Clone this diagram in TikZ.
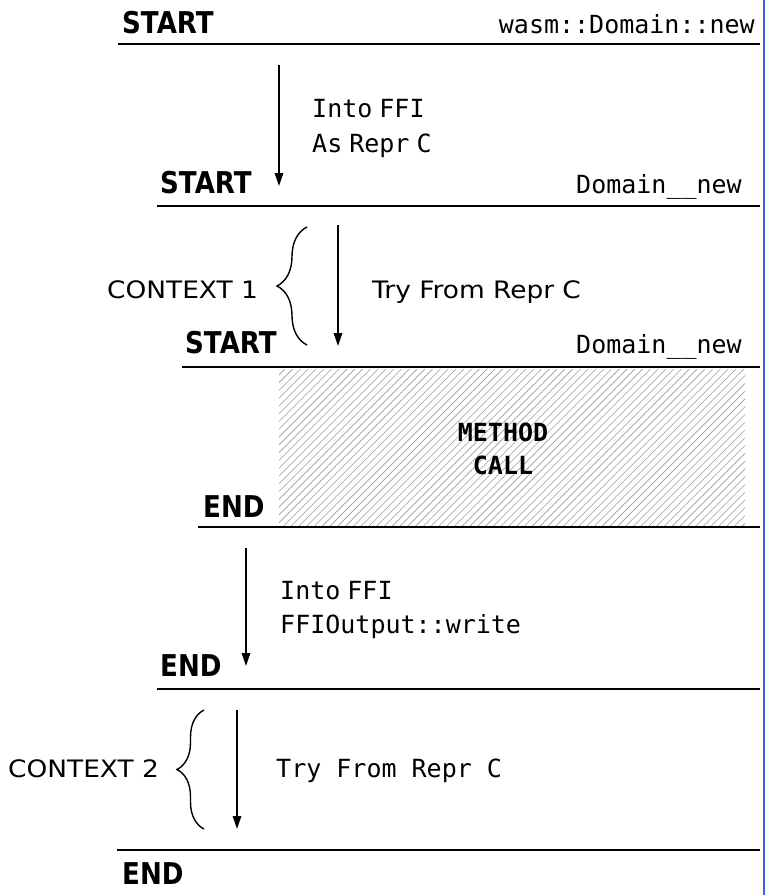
\documentclass[tikz,border=0pt]{standalone}
\usepackage{fontspec}
\usetikzlibrary{arrows.meta,decorations.pathreplacing,patterns.meta}
\newfontfamily\headfont[FakeStretch=0.87]{DejaVu Sans}
\newfontfamily\ctxfont[FakeStretch=1.1]{DejaVu Sans}
\newfontfamily\codefont{DejaVu Sans Mono}
\definecolor{edgeblue}{RGB}{60,100,225}
\tikzset{
  head/.style={inner sep=0pt,font=\headfont\bfseries\fontsize{30}{36}\selectfont},
  code/.style={inner sep=0pt,font=\codefont\fontsize{25}{30}\selectfont},
  boldcode/.style={inner sep=0pt,align=center,font=\codefont\bfseries\fontsize{25}{33}\selectfont},
  ctx/.style={inner sep=0pt,font=\ctxfont\fontsize{24}{28}\selectfont},
  rule/.style={line width=2pt},
  flow/.style={line width=1.4pt,-{Triangle[length=13pt,width=8.5pt]}},
  ctxbrace/.style={line width=1.4pt,decorate,decoration={brace,amplitude=#1}},
  hatch/.style={pattern={Lines[angle=45,distance=5.5pt,line width=0.6pt]},pattern color=gray!80}
}
\newcommand{\nsp}{\hspace{7pt}}
\begin{document}
\begin{tikzpicture}[x=1pt,y=-1pt]
\useasboundingbox (0,0) rectangle (765,895);
% right edge
\draw[line width=1.6pt,edgeblue] (763.7,0) -- (763.7,895);

% block 1
\node[head,anchor=base west] (s1) at (122,33) {START};
\node[code,anchor=base east] (f1) at (755,33) {wasm::Domain::new};
\coordinate (l1a) at (118,44); \coordinate (l1b) at (760,44);
\draw[rule] (l1a) -- (l1b);

\coordinate (a1s) at (279,65); \coordinate (a1e) at (279,186);
\draw[flow] (a1s) -- (a1e);
\node[code,anchor=base west] (t1) at (312,117) {Into\nsp FFI};
\node[code,anchor=base west] (t2) at (312,152) {As\nsp Repr\nsp C};

% block 2
\node[head,anchor=base west] (s2) at (160,193) {START};
\node[code,anchor=base east] (f2) at (742,193) {Domain\_\_new};
\coordinate (l2a) at (157,206); \coordinate (l2b) at (760,206);
\draw[rule] (l2a) -- (l2b);

\coordinate (b1s) at (307,345); \coordinate (b1e) at (307,227);
\draw[ctxbrace=30pt] (b1s) -- (b1e);
\node[ctx,anchor=base west] (c1) at (107,298) {CONTEXT 1};
\coordinate (a2s) at (338,225); \coordinate (a2e) at (338,346);
\draw[flow] (a2s) -- (a2e);
\node[ctx,anchor=base west] (t3) at (372,298) {Try From Repr C};

% block 3
\node[head,anchor=base west] (s3) at (185,353) {START};
\node[code,anchor=base east] (f3) at (742,353) {Domain\_\_new};
\coordinate (l3a) at (182,367); \coordinate (l3b) at (760,367);
\draw[rule] (l3a) -- (l3b);

\fill[hatch] (279,369) rectangle (745,525);
\node[boldcode] (mc) at (503,449) {METHOD\\CALL};
\node[head,anchor=base west] (e1) at (203,517) {END};
\coordinate (l4a) at (198,527); \coordinate (l4b) at (760,527);
\draw[rule] (l4a) -- (l4b);

% block 4
\coordinate (a3s) at (246,548); \coordinate (a3e) at (246,666);
\draw[flow] (a3s) -- (a3e);
\node[code,anchor=base west] (t4) at (280,599) {Into\nsp FFI};
\node[code,anchor=base west] (t5) at (280,633) {FFIOutput::write};
\node[head,anchor=base west] (e2) at (160,676) {END};
\coordinate (l5a) at (157,689); \coordinate (l5b) at (760,689);
\draw[rule] (l5a) -- (l5b);

% block 5
\coordinate (b2s) at (204,829) ; \coordinate (b2e) at (204,710);
\draw[ctxbrace=27pt] (b2s) -- (b2e);
\node[ctx,anchor=base west] (c2) at (8,777) {CONTEXT 2};
\coordinate (a4s) at (237,710); \coordinate (a4e) at (237,829);
\draw[flow] (a4s) -- (a4e);
\node[code,anchor=base west] (t6) at (276,777) {Try From Repr C};

\coordinate (l6a) at (117,850); \coordinate (l6b) at (760,850);
\draw[rule] (l6a) -- (l6b);
\node[head,anchor=base west] (e3) at (122,884) {END};
\end{tikzpicture}
\end{document}
